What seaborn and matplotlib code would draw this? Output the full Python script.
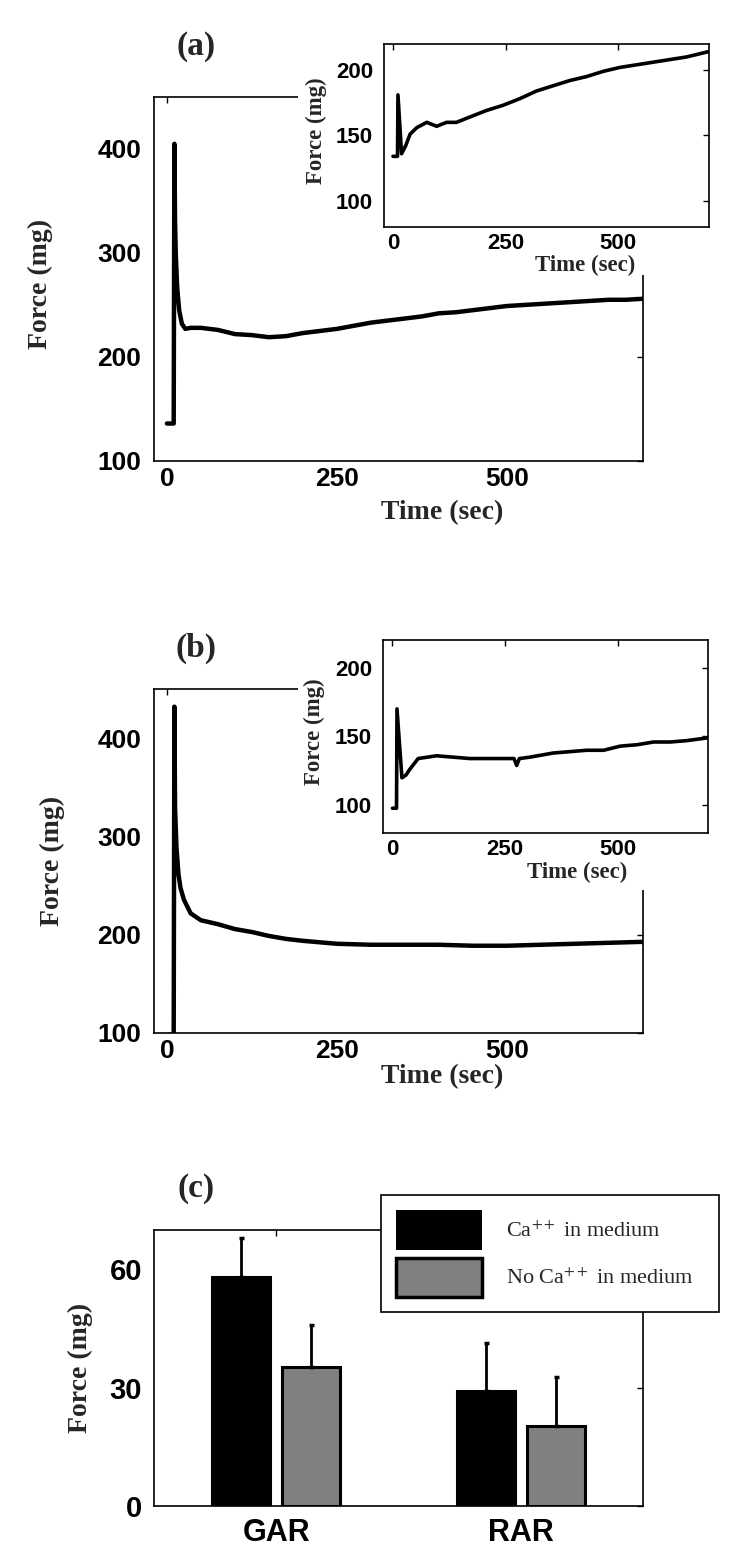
import pandas as pd
import matplotlib
matplotlib.use("Agg")
import matplotlib.pyplot as plt
import matplotlib.patches as mpatches
import seaborn as sns

# (a) main trace, force in mg vs time in sec
a_time = [0, 10, 11, 12, 13, 15, 18, 22, 27, 35, 50, 75, 100, 125, 150, 175, 200, 225, 250,
          275, 300, 325, 350, 375, 400, 425, 450, 475, 500, 525, 550, 575, 600, 625, 650, 675, 700]
a_force = [136, 136, 405, 330, 300, 268, 245, 232, 227, 228, 228, 226, 222, 221, 219, 220, 223, 225, 227,
           230, 233, 235, 237, 239, 242, 243, 245, 247, 249, 250, 251, 252, 253, 254, 255, 255, 256]

# (a) inset
ia_time = [0, 10, 11, 19, 28, 38, 53, 75, 97, 119, 141, 170, 207, 244, 281, 319, 356, 393,
           430, 467, 504, 541, 578, 615, 652, 700]
ia_force = [134, 134, 181, 136, 142, 151, 156, 160, 157, 160, 160, 164, 169, 173, 178, 184, 188, 192,
            195, 199, 202, 204, 206, 208, 210, 214]

# (b) main trace
b_time = [0, 10, 11, 12, 14, 17, 20, 25, 35, 50, 75, 100, 125, 150, 175, 200, 250, 300, 350,
          400, 450, 500, 550, 600, 650, 700]
b_force = [98, 98, 433, 330, 290, 262, 248, 236, 222, 215, 211, 206, 203, 199, 196, 194, 191, 190, 190,
           190, 189, 189, 190, 191, 192, 193]

# (b) inset
ib_time = [0, 9, 10, 21, 30, 38, 57, 98, 135, 172, 209, 246, 270, 276, 282, 305, 357, 394,
           431, 469, 506, 543, 580, 617, 654, 700]
ib_force = [98, 98, 170, 120, 122, 126, 134, 136, 135, 134, 134, 134, 134, 129, 134, 135, 138, 139,
            140, 140, 143, 144, 146, 146, 147, 149]

# (c) bars
conditions = ["Ca$^{++}$ in medium", "No Ca$^{++}$ in medium"]
bar_muscle = ["GAR", "GAR", "RAR", "RAR"]
bar_cond = [conditions[0], conditions[1], conditions[0], conditions[1]]
bar_force = [58.2, 35.3, 29.2, 20.3]
bar_err = [9.7, 10.7, 12.2, 12.5]
bar_colors = ["#000000", "#808080"]

time_ticks = [0, 250, 500]
main_yticks = [100, 200, 300, 400]
inset_yticks = [100, 150, 200]
bar_yticks = [0, 30, 60]

sns.set_style("white")
plt.rcParams['font.family'] = ['Liberation Sans', 'DejaVu Sans']
plt.rcParams['mathtext.fontset'] = 'stix'

SERIF = 'Liberation Serif'

fig = plt.figure(figsize=(7.5, 15.62), dpi=100)


def style(ax, xt, yt, size, ypad, xpad):
    ax.set_xticks(xt, labels=[str(v) for v in xt], fontweight='bold', fontsize=size)
    ax.set_yticks(yt, labels=[str(v) for v in yt], fontweight='bold', fontsize=size)
    ax.tick_params(direction='in', top=True, right=True, length=4, width=1, colors='black')
    ax.tick_params(axis='y', pad=ypad)
    ax.tick_params(axis='x', pad=xpad)
    for s in ax.spines.values():
        s.set_visible(True)
        s.set_color('black')
        s.set_linewidth(1.2)
    ax.set_facecolor('white')


def trace(ax, t, f, lw):
    sns.lineplot(x=t, y=f, ax=ax, color='black', linewidth=lw, sort=False, estimator=None)


# ---------- panel (a)
ax_a = fig.add_axes([0.2053, 0.7049, 0.652, 0.2330])
trace(ax_a, a_time, a_force, 3.2)
ax_a.set_xlim(-19, 700)
ax_a.set_ylim(100, 450)
style(ax_a, time_ticks, main_yticks, 19, 9, 4)
ax_a.set_xlabel("Time (sec)", fontfamily=SERIF, fontweight='bold', fontsize=20)
ax_a.set_ylabel("Force (mg)", fontfamily=SERIF, fontweight='bold', fontsize=20)
ax_a.xaxis.set_label_coords(0.589, -0.107)
ax_a.yaxis.set_label_coords(-0.2065, 0.485)

fig.add_artist(mpatches.Rectangle((298 / 750, 1 - 275 / 1562), 1, 275 / 1562,
                                  transform=fig.transFigure, facecolor='white',
                                  edgecolor='none', zorder=1))

ax_ia = fig.add_axes([0.512, 0.8547, 0.4333, 0.1172], zorder=2)
trace(ax_ia, ia_time, ia_force, 2.6)
ax_ia.set_xlim(-20, 702)
ax_ia.set_ylim(80, 220)
style(ax_ia, time_ticks, inset_yticks, 16, 8, 4)
ax_ia.set_xlabel("Time (sec)", fontfamily=SERIF, fontweight='bold', fontsize=16.5)
ax_ia.set_ylabel("Force (mg)", fontfamily=SERIF, fontweight='bold', fontsize=16.5)
ax_ia.xaxis.set_label_coords(0.62, -0.15)
ax_ia.yaxis.set_label_coords(-0.175, 0.525)

# ---------- panel (b)
ax_b = fig.add_axes([0.2053, 0.3387, 0.652, 0.2202])
trace(ax_b, b_time, b_force, 3.2)
ax_b.set_xlim(-19, 700)
ax_b.set_ylim(100, 451)
style(ax_b, time_ticks, main_yticks, 19, 9, 4)
ax_b.set_xlabel("Time (sec)", fontfamily=SERIF, fontweight='bold', fontsize=20)
ax_b.set_ylabel("Force (mg)", fontfamily=SERIF, fontweight='bold', fontsize=20)
ax_b.xaxis.set_label_coords(0.589, -0.09)
ax_b.yaxis.set_label_coords(-0.182, 0.5)

fig.add_artist(mpatches.Rectangle((298 / 750, 1 - 890 / 1562), 1, 290 / 1562,
                                  transform=fig.transFigure, facecolor='white',
                                  edgecolor='none', zorder=1))

ax_ib = fig.add_axes([0.5107, 0.4667, 0.4333, 0.1236], zorder=2)
trace(ax_ib, ib_time, ib_force, 2.6)
ax_ib.set_xlim(-21, 701)
ax_ib.set_ylim(80, 220)
style(ax_ib, time_ticks, inset_yticks, 16, 8, 4)
ax_ib.set_xlabel("Time (sec)", fontfamily=SERIF, fontweight='bold', fontsize=16.5)
ax_ib.set_ylabel("Force (mg)", fontfamily=SERIF, fontweight='bold', fontsize=16.5)
ax_ib.xaxis.set_label_coords(0.597, -0.15)
ax_ib.yaxis.set_label_coords(-0.178, 0.523)

# ---------- panel (c)
bar_df = pd.DataFrame({'muscle': bar_muscle, 'cond': bar_cond,
                       'force': bar_force, 'err': bar_err})
ax_c = fig.add_axes([0.2053, 0.03585, 0.652, 0.1767])
sns.barplot(data=bar_df, x='muscle', y='force', hue='cond', palette=bar_colors,
            width=0.574, gap=0.17, edgecolor='black', linewidth=2.2,
            errorbar=None, legend=False, ax=ax_c)
for cond, cont in zip(conditions, ax_c.containers):
    sub = bar_df[bar_df.cond == cond]
    for bar, e in zip(cont, sub.err):
        xc = bar.get_x() + bar.get_width() / 2
        h = bar.get_height()
        ax_c.errorbar(xc, h, yerr=[[0], [e]], fmt='none', ecolor='black',
                      elinewidth=2, capsize=1.8, capthick=2.5, zorder=3)
ax_c.set_xlim(-0.5, 1.5)
ax_c.set_ylim(0, 70)
ax_c.set_xlabel("")
style(ax_c, [0, 1], bar_yticks, 21, 8.5, 8.5)
ax_c.set_xticks([0, 1], labels=["GAR", "RAR"], fontweight='bold', fontsize=22)
ax_c.set_ylabel("Force (mg)", fontfamily=SERIF, fontweight='bold', fontsize=20)
ax_c.yaxis.set_label_coords(-0.125, 0.5)

handles = [mpatches.Patch(facecolor=bar_colors[0], edgecolor='black', linewidth=0),
           mpatches.Patch(facecolor=bar_colors[1], edgecolor='black', linewidth=2.5)]
leg = ax_c.legend(handles, conditions, loc='upper left',
                  bbox_to_anchor=(0.464, 0.688, 0.691, 0.439), mode='expand',
                  borderaxespad=0, frameon=True, fancybox=False, edgecolor='black',
                  framealpha=1, prop={'family': SERIF, 'size': 16},
                  handlelength=3.87, handleheight=2.33, handletextpad=1.08,
                  labelspacing=0.36, borderpad=0.7)
leg.get_frame().set_linewidth(1.2)

# panel letters
for lab, y in [("(a)", 47), ("(b)", 648), ("(c)", 1188)]:
    fig.text(196 / 750, 1 - y / 1562, lab, ha='center', va='center',
             fontfamily=SERIF, fontweight='bold', fontsize=24)

fig.savefig("out.png", dpi=100, facecolor='white')
